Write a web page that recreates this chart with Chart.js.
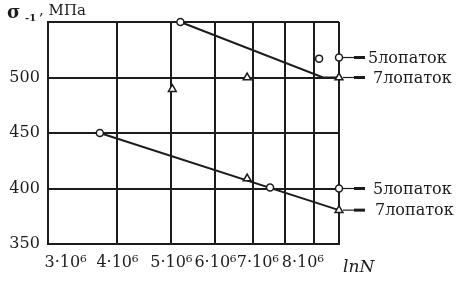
<!DOCTYPE html>
<html>
<head>
<meta charset="utf-8">
<script src="https://cdn.jsdelivr.net/npm/chart.js@4"></script>
<style>
  body { margin: 0; background: #fff; }
  #wrap { width: 473px; height: 284px; }
</style>
</head>
<body>
<div id="wrap"><canvas id="canvas"></canvas></div>
<script>
// fatigue limit vs number of cycles, two test groups (5 and 7 blades)
let upper5N      = [5.19e6, 9.21e6, 1.0e7];
let upper5Stress = [550, 517, 518];
let upper7N      = [5.02e6, 6.84e6, 1.0e7];
let upper7Stress = [489.5, 500, 500];
let upperFitN      = [5.19e6, 9.36e6, 1.0e7];
let upperFitStress = [550, 500, 500];

let lower5N      = [3.72e6, 7.52e6, 1.0e7];
let lower5Stress = [450, 401, 400];
let lower7N      = [6.84e6, 1.0e7];
let lower7Stress = [409, 380.5];
let lowerFitN      = [3.72e6, 1.0e7];
let lowerFitStress = [450, 380.5];

let xTicks      = [3e6, 4e6, 5e6, 6e6, 7e6, 8e6, 9e6, 1e7];
let xTickLabels = ['3·10⁶', '4·10⁶', '5·10⁶', '6·10⁶', '7·10⁶', '8·10⁶', '', ''];
let yTicks      = [350, 400, 450, 500, 550];
let yTickLabels = ['350', '400', '450', '500', ''];

let seriesNames = ['5лопаток', '7лопаток'];
let yTitle = ', МПа';
let xTitle = 'lnN';

let ink = '#1c1c1c';

function pts(xs, ys) {
  return xs.map((x, i) => ({ x: x, y: ys[i] }));
}

function markers(data, style, r) {
  return {
    type: 'scatter',
    data: data,
    pointStyle: style,
    pointRadius: r,
    borderColor: ink,
    backgroundColor: '#fff',
    borderWidth: 1.5,
    clip: false,
    order: 0
  };
}

function fitLine(data) {
  return {
    type: 'line',
    data: data,
    borderColor: ink,
    borderWidth: 2,
    pointRadius: 0,
    fill: false,
    clip: false,
    order: 1
  };
}

// text and leader lines around the plot
let notes = {
  id: 'notes',
  afterDraw(chart) {
    let ctx = chart.ctx;
    let xs = chart.scales.x, ys = chart.scales.y;
    let area = chart.chartArea;
    ctx.save();
    ctx.fillStyle = ink;
    ctx.strokeStyle = ink;

    // y title
    ctx.textBaseline = 'alphabetic';
    ctx.textAlign = 'left';
    ctx.font = 'bold 18px "DejaVu Serif"';
    ctx.fillText('σ', 7, 18);
    ctx.font = 'bold 10px "DejaVu Serif"';
    ctx.fillText('-1', 25, 21);
    ctx.font = '15px "DejaVu Serif"';
    ctx.fillText(yTitle, 39, 15);

    // x title
    ctx.font = 'italic 17px "DejaVu Serif"';
    ctx.fillText(xTitle, area.right + 4, 272);

    // series labels at the last point of each group
    let ends = [
      [upper5N[2], upper5Stress[2], seriesNames[0], 29],
      [upper7N[2], upper7Stress[2], seriesNames[1], 34],
      [lower5N[2], lower5Stress[2], seriesNames[0], 34],
      [lower7N[1], lower7Stress[1], seriesNames[1], 36]
    ];
    ctx.font = '16px "DejaVu Serif"';
    ctx.textBaseline = 'middle';
    ends.forEach(e => {
      let px = xs.getPixelForValue(e[0]);
      let py = ys.getPixelForValue(e[1]);
      ctx.lineWidth = 1.2;
      ctx.beginPath();
      ctx.moveTo(px + 4, py);
      ctx.lineTo(px + 16, py);
      ctx.stroke();
      ctx.lineWidth = 3;
      ctx.beginPath();
      ctx.moveTo(px + 15, py);
      ctx.lineTo(px + 26, py);
      ctx.stroke();
      ctx.fillText(e[2], px + e[3], py + 1);
    });
    ctx.restore();
  }
};

let options = {
  data: {
    datasets: [
      fitLine(pts(upperFitN, upperFitStress)),
      fitLine(pts(lowerFitN, lowerFitStress)),
      markers(pts(upper5N, upper5Stress), 'circle', 3.5),
      markers(pts(upper7N, upper7Stress), 'triangle', 4.5),
      markers(pts(lower5N, lower5Stress), 'circle', 3.5),
      markers(pts(lower7N, lower7Stress), 'triangle', 4.5)
    ]
  },
  options: {
    responsive: true,
    maintainAspectRatio: false,
    animation: false,
    layout: { padding: { top: 22, right: 134, left: 0, bottom: 0 } },
    plugins: {
      legend: { display: false },
      tooltip: { enabled: false }
    },
    scales: {
      x: {
        type: 'logarithmic',
        min: 3e6,
        max: 1e7,
        afterBuildTicks: s => { s.ticks = xTicks.map(v => ({ value: v })); },
        afterFit: s => { s.height = 40; },
        ticks: {
          color: ink,
          padding: 9,
          maxRotation: 0,
          autoSkip: false,
          font: { family: 'DejaVu Serif', size: 16 },
          // the printed labels sit a little right of some grid lines
          callback: (v, i) => ' '.repeat([7, 0, 0, 0, 2, 7, 0, 0][i]) + xTickLabels[i]
        },
        grid: { color: ink, lineWidth: 2, drawTicks: false },
        border: { color: ink, width: 2 }
      },
      y: {
        min: 350,
        max: 550,
        afterBuildTicks: s => { s.ticks = yTicks.map(v => ({ value: v })); },
        afterFit: s => { s.width = 47; },
        ticks: {
          color: ink,
          padding: 8,
          font: { family: 'DejaVu Serif', size: 16 },
          callback: (v, i) => yTickLabels[i]
        },
        grid: { color: ink, lineWidth: 2, drawTicks: false },
        border: { color: ink, width: 2 }
      }
    }
  },
  plugins: [notes]
};

let chart = new Chart(document.getElementById('canvas'), options);
</script>
</body>
</html>
